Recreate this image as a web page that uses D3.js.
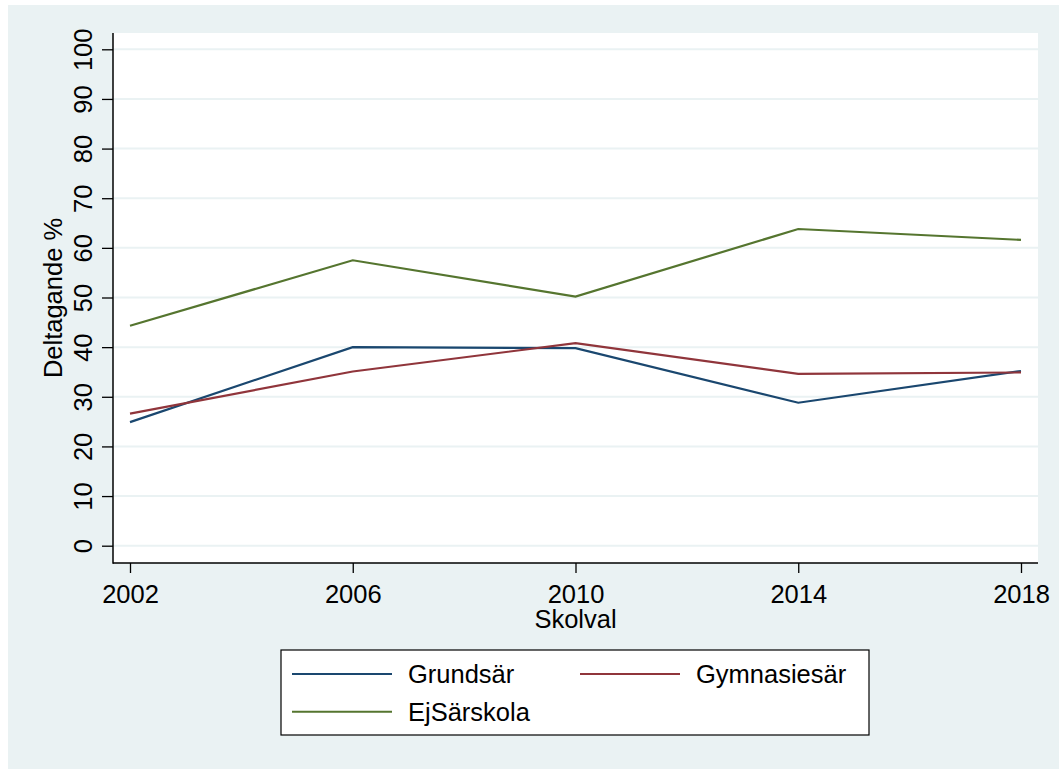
<!DOCTYPE html>
<html>
<head>
<meta charset="utf-8">
<script src="https://cdn.jsdelivr.net/npm/d3@7"></script>
<style>
  html, body { margin: 0; padding: 0; background: #fff; }
  svg { display: block; }
  text { font-family: "Liberation Sans", Arial, sans-serif; fill: #000; }
</style>
</head>
<body>
<svg id="chart" width="1059" height="769"></svg>
<script>
const years = [2002, 2006, 2010, 2014, 2018];
const grundsar = [24.9, 40.0, 39.8, 28.8, 35.2];
const gymnasiesar = [26.6, 35.1, 40.8, 34.6, 34.9];
const ejSarskola = [44.3, 57.5, 50.2, 63.8, 61.6];
const seriesNames = ["Grundsär", "Gymnasiesär", "EjSärskola"];
const yTicks = [0, 10, 20, 30, 40, 50, 60, 70, 80, 90, 100];
const xTicks = years;

const seriesValues = [grundsar, gymnasiesar, ejSarskola];
const colors = ["#1A476F", "#90353B", "#55752F"];

const svg = d3.select("#chart");
const bg = "#EAF2F3";
const fs = 25.5;

svg.append("rect").attr("x", 8).attr("y", 5).attr("width", 1051).attr("height", 764).attr("fill", bg);

const plot = { left: 113, top: 33, right: 1038, bottom: 563 };
svg.append("rect").attr("x", plot.left).attr("y", plot.top)
  .attr("width", plot.right - plot.left).attr("height", plot.bottom - plot.top).attr("fill", "#fff");

const x = d3.scaleLinear().domain([2002, 2018]).range([130, 1021]);
const y = d3.scaleLinear().domain([0, 100]).range([545.7, 49.3]);

// gridlines
svg.append("g").selectAll("line").data(yTicks).join("line")
  .attr("x1", plot.left).attr("x2", plot.right)
  .attr("y1", d => y(d)).attr("y2", d => y(d))
  .attr("stroke", bg).attr("stroke-width", 2);

// Y axis
const yAxis = svg.append("g").attr("transform", `translate(${plot.left},0)`)
  .call(d3.axisLeft(y).tickValues(yTicks).tickSize(11).tickSizeOuter(0).tickPadding(0));
yAxis.select(".domain").remove();
yAxis.selectAll(".tick line").attr("stroke", "#000").attr("stroke-width", 1.3);
yAxis.selectAll(".tick text")
  .attr("x", null).attr("dy", null)
  .attr("transform", "translate(-21,0) rotate(-90)")
  .attr("text-anchor", "middle")
  .style("font-size", fs + "px")
  .style("font-family", '"Liberation Sans", Arial, sans-serif')
  .attr("fill", "#000");

// X axis
const xAxis = svg.append("g").attr("transform", `translate(0,${plot.bottom})`)
  .call(d3.axisBottom(x).tickValues(xTicks).tickFormat(d3.format("d")).tickSize(10).tickSizeOuter(0));
xAxis.select(".domain").remove();
xAxis.selectAll(".tick line").attr("stroke", "#000").attr("stroke-width", 1.3);
xAxis.selectAll(".tick text")
  .attr("y", 40).attr("dy", null)
  .style("font-size", fs + "px")
  .style("font-family", '"Liberation Sans", Arial, sans-serif')
  .attr("fill", "#000");

// axis lines
svg.append("line").attr("x1", plot.left).attr("x2", plot.left).attr("y1", plot.top).attr("y2", plot.bottom + 0.75)
  .attr("stroke", "#000").attr("stroke-width", 1.5);
svg.append("line").attr("x1", plot.left).attr("x2", plot.right).attr("y1", plot.bottom).attr("y2", plot.bottom)
  .attr("stroke", "#000").attr("stroke-width", 1.5);

// axis titles
svg.append("text").attr("x", (plot.left + plot.right) / 2).attr("y", 628)
  .attr("text-anchor", "middle").style("font-size", fs + "px").text("Skolval");
svg.append("text").attr("transform", `translate(62,${(plot.top + plot.bottom) / 2}) rotate(-90)`)
  .attr("text-anchor", "middle").style("font-size", fs + "px").text("Deltagande %");

// lines
const line = d3.line().x((d, i) => x(years[i])).y(d => y(d));
svg.append("g").selectAll("path").data(seriesValues).join("path")
  .attr("d", d => line(d))
  .attr("fill", "none")
  .attr("stroke", (d, i) => colors[i])
  .attr("stroke-width", 2.2)
  .attr("stroke-linejoin", "miter");

// legend
svg.append("rect").attr("x", 281).attr("y", 650).attr("width", 588).attr("height", 85)
  .attr("fill", "#fff").attr("stroke", "#000").attr("stroke-width", 1.2);
const legendPos = [
  { lx: 292, ty: 674 },
  { lx: 580, ty: 674 },
  { lx: 292, ty: 711.7 }
];
const lg = svg.append("g").selectAll("g").data(seriesNames).join("g")
  .attr("transform", (d, i) => `translate(${legendPos[i].lx},${legendPos[i].ty})`);
lg.append("line").attr("x1", 0).attr("x2", 100).attr("y1", 0).attr("y2", 0)
  .attr("stroke", (d, i) => colors[i]).attr("stroke-width", 2);
lg.append("text").attr("x", 116).attr("y", 9.3).style("font-size", fs + "px").text(d => d);
</script>
</body>
</html>
